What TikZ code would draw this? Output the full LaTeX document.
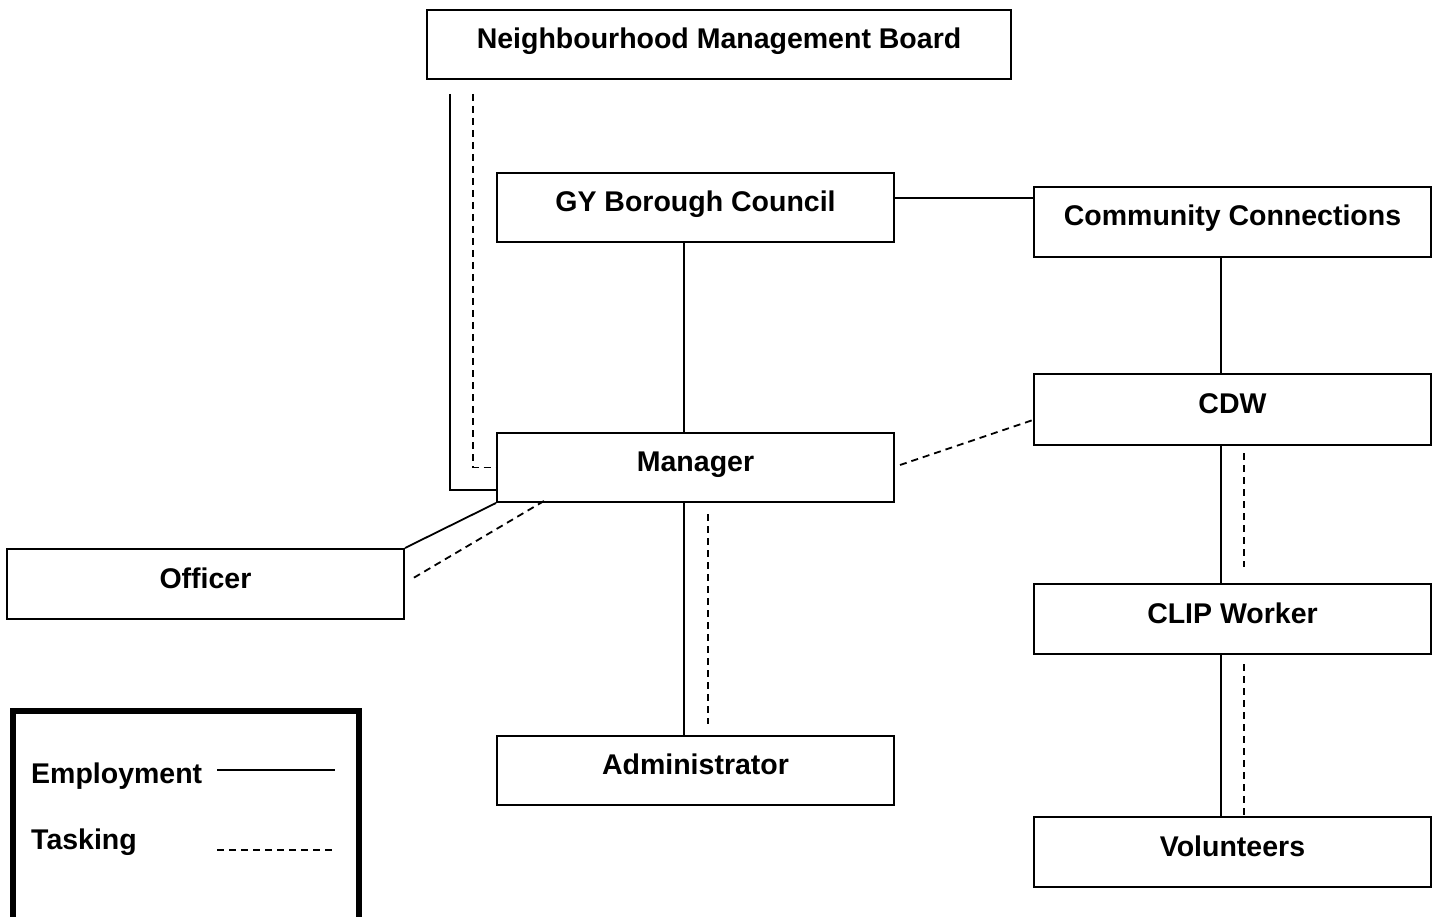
\documentclass[tikz,border=0pt]{standalone}
\usepackage{fontspec}
\setmainfont{Liberation Sans}
\usetikzlibrary{calc}
\begin{document}
\begin{tikzpicture}[x=1pt,y=-1pt,
  box/.style={draw,line width=2pt,minimum width=397pt,minimum height=69pt,inner sep=0pt,
    text height=20pt,text depth=12pt,font=\bfseries\fontsize{28.5}{34}\selectfont},
  lgtext/.style={inner sep=0pt,anchor=base west,font=\bfseries\fontsize{28.5}{34}\selectfont},
  emp/.style={line width=1.8pt},
  task/.style={line width=1.8pt,dash pattern=on 7pt off 5pt}]
\useasboundingbox (0,0) rectangle (1438,917);
\fill[white] (0,0) rectangle (1438,917);
% boxes
\node[box,minimum width=584pt] (nmb) at (719,44.5) {Neighbourhood Management Board};
\node[box] (gy) at (695.5,207.5) {GY Borough Council};
\node[box,minimum height=70pt] (cc) at (1232.5,222) {Community Connections};
\node[box,minimum height=71pt] (cdw) at (1232.5,409.5) {CDW};
\node[box] (mgr) at (695.5,467.5) {Manager};
\node[box,minimum height=70pt] (off) at (205.5,584) {Officer};
\node[box] (adm) at (695.5,770.5) {Administrator};
\node[box,minimum height=70pt] (clip) at (1232.5,619) {CLIP Worker};
\node[box,minimum height=70pt] (vol) at (1232.5,852) {Volunteers};
% connectors
\draw[emp] ([shift={(24,14)}]nmb.south west) |- ([shift={(0,22.5)}]mgr.west);
\draw[task] ([shift={(47,14)}]nmb.south west) |- (mgr.west);
\draw[emp] ([shift={(0,-9.5)}]gy.east) -- ([shift={(0,-9.5)}]gy.east -| cc.west);
\draw[emp] ([shift={(-11.5,0)}]gy.south) -- ([shift={(-11.5,0)}]mgr.north);
\draw[emp] ([shift={(-11.5,0)}]cc.south) -- ([shift={(-11.5,0)}]cdw.north);
\draw[task] ([shift={(5,-2.5)}]mgr.east) -- ([shift={(0,10.5)}]cdw.west);
\draw[emp] (mgr.south west) -- (off.north east);
\draw[task] ([shift={(48,-2)}]mgr.south west) -- ([shift={(5,-4)}]off.east);
\draw[emp] ([shift={(-11.5,0)}]mgr.south) -- ([shift={(-11.5,0)}]adm.north);
\draw[task] ([shift={(12.5,11)}]mgr.south) -- ([shift={(12.5,-11)}]adm.north);
\draw[emp] ([shift={(-11.5,-2)}]cdw.south) -- ([shift={(-11.5,0)}]clip.north);
\draw[task] ([shift={(11.5,7)}]cdw.south) -- ([shift={(11.5,-16)}]clip.north);
\draw[emp] ([shift={(-11.5,0)}]clip.south) -- ([shift={(-11.5,0)}]vol.north);
\draw[task] ([shift={(11.5,9)}]clip.south) -- ([shift={(11.5,2)}]vol.north);
% legend
\draw[line width=6pt] (13,930) -- (13,711) -- (359,711) -- (359,930);
\node[lgtext] (lemp) at (31,783) {Employment};
\node[lgtext] (ltask) at (31,849) {Tasking};
\coordinate (le1) at (217,770);
\coordinate (le2) at (335,770);
\coordinate (lt1) at (217,850);
\coordinate (lt2) at (334,850);
\draw[emp] (le1) -- (le2);
\draw[task] (lt1) -- (lt2);
\end{tikzpicture}
\end{document}
